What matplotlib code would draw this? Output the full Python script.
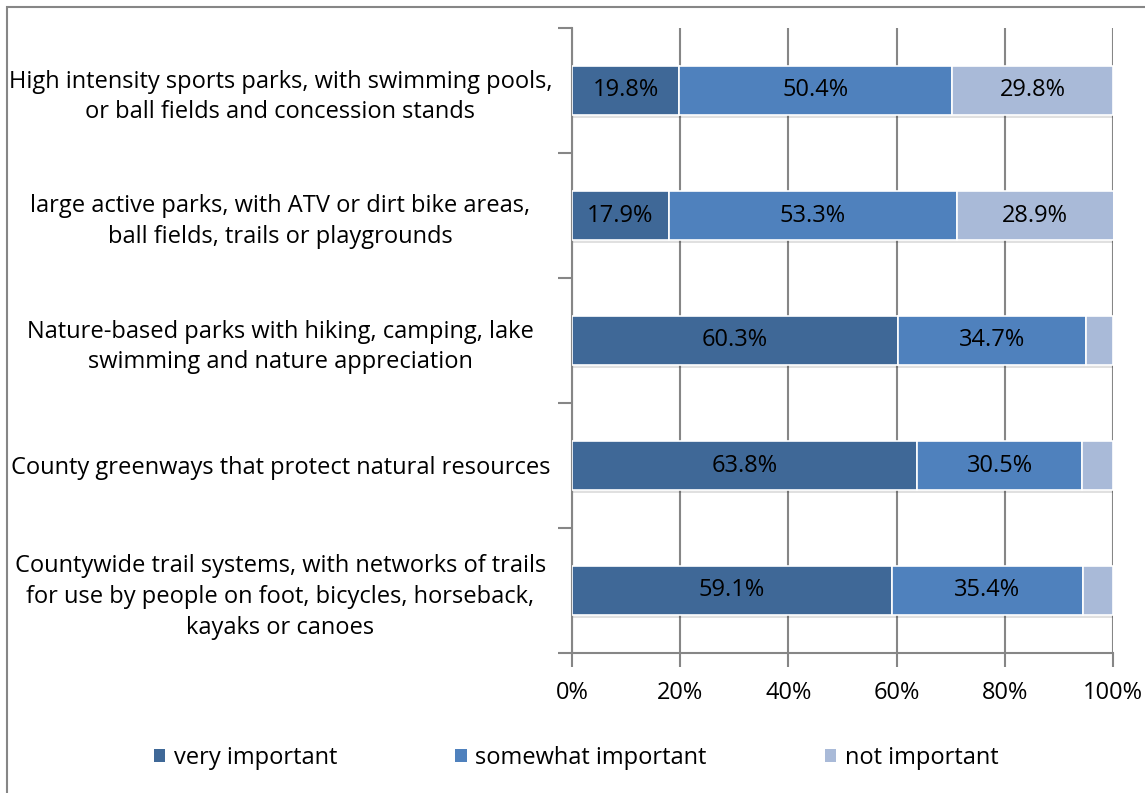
import matplotlib.pyplot as plt
import matplotlib.patheffects as pe
from matplotlib.patches import Patch

categories = [
    "High intensity sports parks, with swimming pools,\nor ball fields and concession stands",
    "large active parks, with ATV or dirt bike areas,\nball fields, trails or playgrounds",
    "Nature-based parks with hiking, camping, lake\nswimming and nature appreciation",
    "County greenways that protect natural resources",
    "Countywide trail systems, with networks of trails\nfor use by people on foot, bicycles, horseback,\nkayaks or canoes",
]
very = [19.8, 17.9, 60.3, 63.8, 59.1]
somewhat = [50.4, 53.3, 34.7, 30.5, 35.4]
notimp = [29.8, 28.9, 5.0, 5.7, 5.5]
series_names = ["very important", "somewhat important", "not important"]
colors = ["#3F6897", "#4F81BD", "#A9BAD8"]

plt.rcParams['font.family'] = ['Open Sans', 'DejaVu Sans']
fs = 17

fig = plt.figure(figsize=(11.45, 7.93), dpi=100)
ax = fig.add_axes([572 / 1145, 1 - 653 / 793, (1113 - 572) / 1145, (653 - 28) / 793])

# chart border
fig.patches.append(plt.Rectangle((7 / 1145, -0.1), 1.2, 1 - 7 / 793 + 0.1,
                                 transform=fig.transFigure, fill=False,
                                 edgecolor="#868686", linewidth=1.5))

ypos = list(range(len(categories)))
left = [0] * len(categories)
for vals, name, col in zip([very, somewhat, notimp], series_names, colors):
    bars = ax.barh(ypos, vals, left=left, height=0.385, color=col, edgecolor="white",
                   linewidth=1.2, zorder=3)
    for b in bars:
        b.set_path_effects([pe.SimplePatchShadow(offset=(0.5, -2.5), shadow_rgbFace="black", alpha=0.12),
                            pe.Normal()])
    for y, v, l in zip(ypos, vals, left):
        if v > 10:
            ax.text(l + v / 2, y, f"{v:.1f}%", ha="center", va="center", fontsize=fs,
                    color="black", zorder=4)
    left = [a + b for a, b in zip(left, vals)]

ax.set_xlim(0, 100)
ax.set_ylim(len(categories) - 0.5, -0.5)
ax.set_xticks([0, 20, 40, 60, 80, 100])
ax.set_xticklabels([f"{t}%" for t in [0, 20, 40, 60, 80, 100]], fontsize=fs)
ax.set_yticks([i - 0.5 for i in range(len(categories) + 1)])
ax.set_yticklabels([])
ax.set_yticks(ypos, minor=True)
ax.set_yticklabels(categories, minor=True, fontsize=fs, ha="center", linespacing=1.38)
ax.tick_params(axis="y", which="minor", length=0, pad=210)
ax.tick_params(axis="y", which="major", length=10, color="#868686", width=1.5)
ax.tick_params(axis="x", length=10, color="#868686", width=1.5, pad=10)
ax.grid(axis="x", color="#868686", linewidth=1.5, zorder=0)
for s in ["top", "right"]:
    ax.spines[s].set_visible(False)
for s in ["left", "bottom"]:
    ax.spines[s].set_color("#868686")
    ax.spines[s].set_linewidth(1.5)

handles = [Patch(facecolor=c, label=n) for c, n in zip(colors, series_names)]
fig.legend(handles=handles, loc="center", bbox_to_anchor=(576 / 1145, 1 - 758 / 793), ncol=3,
           frameon=False, fontsize=fs, handlelength=0.5, handleheight=0.5, handletextpad=0.35,
           columnspacing=5.0)

fig.savefig("out.png", dpi=100)
